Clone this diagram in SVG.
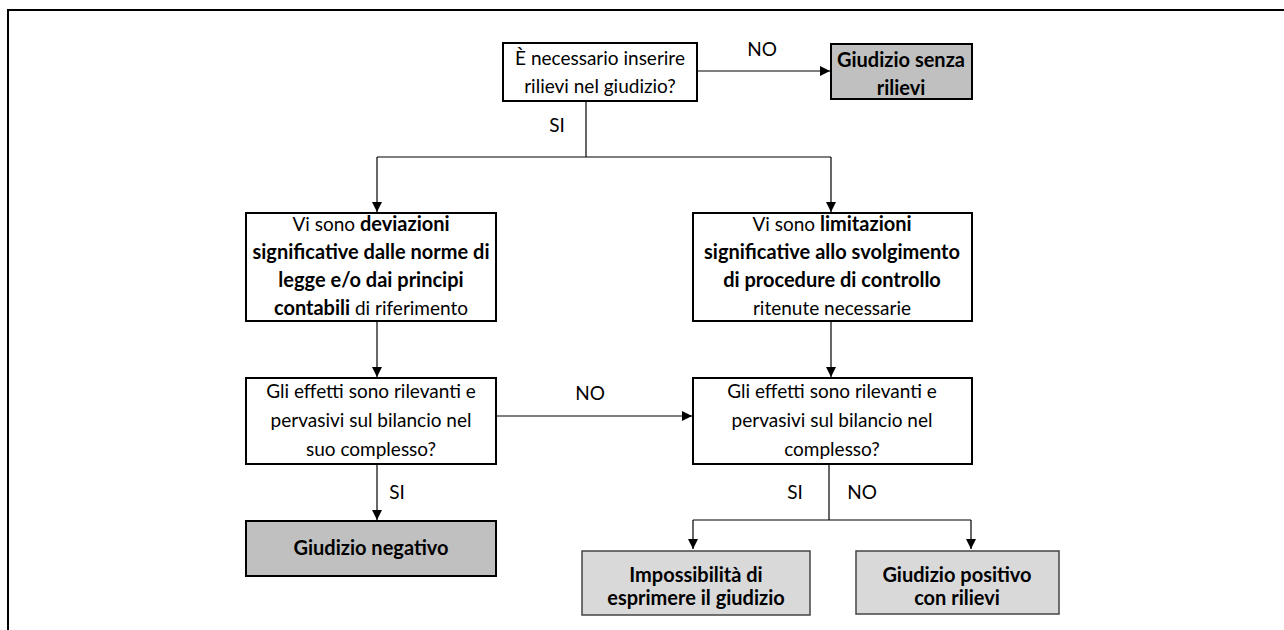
<svg xmlns="http://www.w3.org/2000/svg" width="1284" height="630" viewBox="0 0 1284 630">
<style>
text{font-family:Lato,"Open Sans","Liberation Sans",sans-serif;font-size:19px;fill:#000;text-anchor:middle}
.b{font-weight:bold;font-size:20px}
.box{fill:#fff;stroke:#000;stroke-width:2}
.dark{fill:#c0c0c0;stroke:#000;stroke-width:2}
.light{fill:#d9d9d9;stroke:#444;stroke-width:1.5}
.c{fill:none;stroke:#000;stroke-width:1.2}
</style>
<defs>
<marker id="ah" viewBox="0 0 10 10" refX="10" refY="5" markerWidth="10" markerHeight="10" markerUnits="userSpaceOnUse" orient="auto">
<path d="M0,0 L10,5 L0,10 Z" fill="#000"/>
</marker>
</defs>
<rect x="0" y="0" width="1284" height="630" fill="#fff"/>
<path d="M8,630 V10 H1284" fill="none" stroke="#000" stroke-width="2"/>

<g id="connectors">
<line class="c" x1="697" y1="71" x2="830" y2="71" marker-end="url(#ah)"/>
<path class="c" d="M586,101 V157"/>
<path class="c" d="M377,157 H831"/>
<line class="c" x1="377" y1="157" x2="377" y2="212" marker-end="url(#ah)"/>
<line class="c" x1="831" y1="157" x2="831" y2="212" marker-end="url(#ah)"/>
<line class="c" x1="377" y1="321" x2="377" y2="377" marker-end="url(#ah)"/>
<line class="c" x1="831" y1="321" x2="831" y2="377" marker-end="url(#ah)"/>
<line class="c" x1="496" y1="416" x2="692" y2="416" marker-end="url(#ah)"/>
<line class="c" x1="377" y1="464" x2="377" y2="520" marker-end="url(#ah)"/>
<path class="c" d="M829,464 V520"/>
<path class="c" d="M693,520 H971"/>
<line class="c" x1="693" y1="520" x2="693" y2="549" marker-end="url(#ah)"/>
<line class="c" x1="971" y1="520" x2="971" y2="549" marker-end="url(#ah)"/>
<text x="762" y="56">NO</text>
<text x="557" y="132">SI</text>
<text x="590" y="400">NO</text>
<text x="397" y="499">SI</text>
<text x="795" y="499">SI</text>
<text x="862" y="499">NO</text>
</g>

<g id="q1">
<rect class="box" x="503" y="43" width="194" height="58"/>
<text x="600" y="65">È necessario inserire</text>
<text x="600" y="93">rilievi nel giudizio?</text>
</g>

<g id="senza">
<rect class="dark" x="831" y="44" width="141" height="55"/>
<text class="b" x="901" y="67">Giudizio senza</text>
<text class="b" x="901" y="95">rilievi</text>
</g>

<g id="deviazioni">
<rect class="box" x="246" y="213" width="250" height="108"/>
<text x="371" y="231">Vi sono <tspan class="b">deviazioni</tspan></text>
<text class="b" x="371" y="259">significative dalle norme di</text>
<text class="b" x="371" y="287">legge e/o dai principi</text>
<text x="371" y="315"><tspan class="b">contabili</tspan> di riferimento</text>
</g>

<g id="limitazioni">
<rect class="box" x="693" y="213" width="279" height="108"/>
<text x="832" y="231">Vi sono <tspan class="b">limitazioni</tspan></text>
<text class="b" x="832" y="259">significative allo svolgimento</text>
<text class="b" x="832" y="287">di procedure di controllo</text>
<text x="832" y="315">ritenute necessarie</text>
</g>

<g id="effetti1">
<rect class="box" x="246" y="378" width="250" height="86"/>
<text x="371" y="398">Gli effetti sono rilevanti e</text>
<text x="371" y="427">pervasivi sul bilancio nel</text>
<text x="371" y="456">suo complesso?</text>
</g>

<g id="effetti2">
<rect class="box" x="693" y="378" width="279" height="86"/>
<text x="832" y="398">Gli effetti sono rilevanti e</text>
<text x="832" y="427">pervasivi sul bilancio nel</text>
<text x="832" y="456">complesso?</text>
</g>

<g id="negativo">
<rect class="dark" x="246" y="521" width="250" height="55"/>
<text class="b" x="371" y="555">Giudizio negativo</text>
</g>

<g id="impossibilita">
<rect class="light" x="582" y="551" width="228" height="64"/>
<text class="b" x="696" y="582">Impossibilità di</text>
<text class="b" x="696" y="605">esprimere il giudizio</text>
</g>

<g id="positivo">
<rect class="light" x="856" y="551" width="203" height="63"/>
<text class="b" x="957" y="582">Giudizio positivo</text>
<text class="b" x="957" y="605">con rilievi</text>
</g>
</svg>
